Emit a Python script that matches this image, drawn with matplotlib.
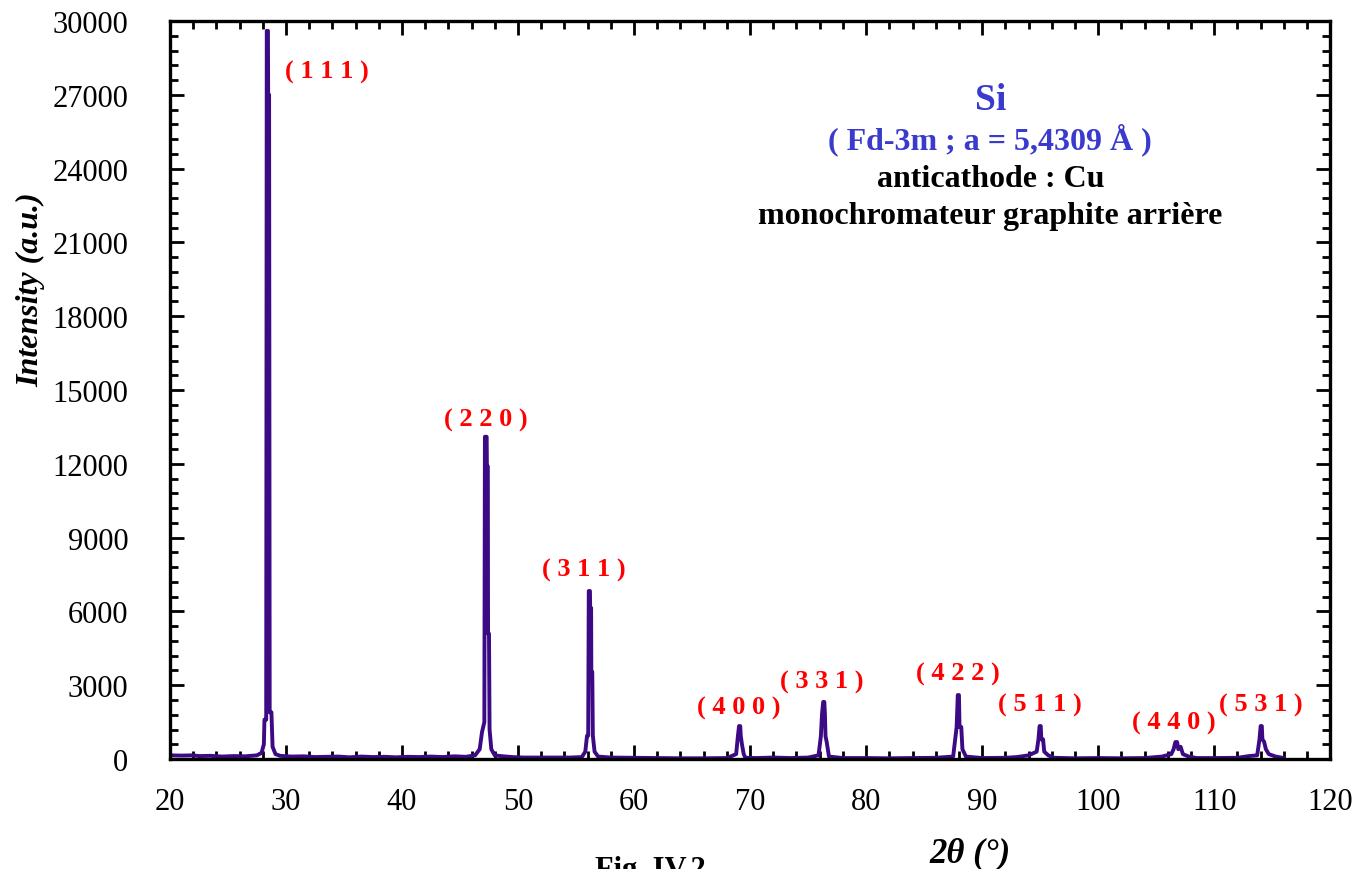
import matplotlib.pyplot as plt
from matplotlib.ticker import MultipleLocator

plt.rcParams['font.family'] = ['Liberation Serif', 'DejaVu Serif']

# diffractogramme Si (2theta, intensite)
two_theta = [20.0, 21.0, 22.0, 22.5, 23.5, 24.5, 25.5, 26.5, 27.5, 27.9,
             28.1, 28.15, 28.3, 28.35, 28.45, 28.47, 28.55, 28.6, 28.75, 28.85, 29.1,
             29.5, 30.5, 31.5, 32.5, 33.5, 34.5, 35.5, 36.5, 37.5, 38.5, 39.5,
             40.5, 41.5, 42.5, 43.5, 44.5, 45.5, 46.3, 46.7,
             46.9, 47.1, 47.15, 47.3, 47.32, 47.4, 47.42, 47.5, 47.55, 47.7, 48.0,
             48.5, 49.5, 50.5, 51.5, 52.5, 53.5, 54.5, 55.5, 55.8,
             55.95, 56.05, 56.1, 56.2, 56.22, 56.3, 56.32, 56.4, 56.45, 56.6, 56.9,
             58.0, 60.0, 62.0, 64.0, 66.0, 68.0, 68.8,
             68.95, 69.05, 69.15, 69.2, 69.3, 69.45, 69.6,
             70.5, 72.0, 73.5, 75.0, 75.9,
             76.1, 76.2, 76.3, 76.4, 76.45, 76.5, 76.6, 76.8,
             78.0, 80.0, 82.0, 84.0, 86.0, 87.5,
             87.8, 87.9, 88.0, 88.05, 88.2, 88.3, 88.6,
             90.0, 92.0, 93.0, 94.0, 94.7,
             94.85, 94.95, 95.05, 95.1, 95.25, 95.35, 95.7, 96.2,
             98.0, 100.0, 102.0, 104.0, 105.5, 106.3,
             106.5, 106.65, 106.8, 106.9, 107.1, 107.3, 107.8, 108.5,
             110.0, 112.0, 113.0, 113.7,
             113.9, 114.0, 114.1, 114.15, 114.3, 114.45, 114.7, 115.3, 116.0]
intensity = [150, 140, 150, 120, 130, 100, 120, 110, 150, 250,
             600, 1600, 1600, 29600, 29600, 27000, 27000, 1900, 1900, 500, 200,
             130, 100, 110, 80, 90, 100, 70, 100, 80, 90, 70,
             90, 80, 100, 80, 110, 90, 150, 400,
             1100, 1500, 13100, 13100, 11900, 11900, 5100, 5100, 1200, 400, 150,
             120, 80, 60, 60, 60, 60, 60, 80, 300,
             950, 950, 6830, 6830, 6140, 6140, 3540, 3540, 950, 300, 100,
             60, 50, 40, 30, 30, 40, 200,
             930, 1340, 1340, 930, 600, 200, 50,
             40, 60, 40, 60, 150,
             930, 1830, 2320, 2320, 1830, 930, 700, 100,
             40, 40, 30, 40, 50, 100,
             1300, 2600, 2600, 1300, 1300, 400, 100,
             40, 50, 80, 150, 300,
             800, 1340, 1340, 800, 800, 300, 150, 50,
             30, 40, 30, 40, 100, 200,
             400, 690, 690, 400, 500, 200, 100, 40,
             40, 50, 120, 150,
             800, 1340, 1340, 800, 700, 400, 200, 100, 40]

# indices de Miller et position des etiquettes
hkl = ['( 1 1 1 )', '( 2 2 0 )', '( 3 1 1 )', '( 4 0 0 )', '( 3 3 1 )',
       '( 4 2 2 )', '( 5 1 1 )', '( 4 4 0 )', '( 5 3 1 )']
hkl_x = [33.5, 47.2, 55.7, 69.0, 76.2, 87.9, 95.0, 106.5, 114.0]
hkl_y = [27930, 13820, 7720, 2110, 3170, 3460, 2200, 1500, 2200]

fig = plt.figure(figsize=(13.7, 8.7), dpi=100)
ax = fig.add_axes([0.124, 0.1264, 0.847, 0.8483])

ax.plot(two_theta, intensity, color='#3c0a84', linewidth=2.8)

for lab, x, y in zip(hkl, hkl_x, hkl_y):
    ax.text(x, y, lab, color='red', fontsize=19, fontweight='bold',
            ha='center', va='center')

ax.text(0.707, 0.894, 'Si', transform=ax.transAxes, color='#3a3acc',
        fontsize=27, fontweight='bold', ha='center', va='center')
ax.text(0.707, 0.840, '( Fd-3m ; a = 5,4309 Å )', transform=ax.transAxes,
        color='#3a3acc', fontsize=23, fontweight='bold', ha='center', va='center')
ax.text(0.707, 0.786, 'anticathode : Cu', transform=ax.transAxes,
        color='black', fontsize=23, fontweight='bold', ha='center', va='center')
ax.text(0.707, 0.737, 'monochromateur graphite arrière', transform=ax.transAxes,
        color='black', fontsize=23, fontweight='bold', ha='center', va='center')

ax.set_xlim(20, 120)
ax.set_ylim(0, 30000)
ax.xaxis.set_major_locator(MultipleLocator(10))
ax.xaxis.set_minor_locator(MultipleLocator(2))
ax.yaxis.set_major_locator(MultipleLocator(3000))
ax.yaxis.set_minor_locator(MultipleLocator(600))
ax.tick_params(which='both', direction='in', top=True, right=True,
               labelsize=22, width=2)
ax.tick_params(which='major', length=10)
ax.tick_params(which='minor', length=6)
ax.tick_params(axis='y', which='major', pad=30)
ax.tick_params(axis='x', which='major', pad=20)
for s in ax.spines.values():
    s.set_linewidth(2.4)

ax.set_ylabel('Intensity (a.u.)', fontsize=23, fontweight='bold',
              fontstyle='italic')
ax.yaxis.set_label_coords(-0.107, 0.637)
fig.text(0.708, 0.0, '2θ (°)', fontsize=25, fontweight='bold',
         fontstyle='italic', ha='center', va='bottom')
fig.text(0.475, 0.016, 'Fig. IV.2', fontsize=22, fontweight='bold',
         ha='center', va='top')

fig.savefig('out.png', dpi=100)
